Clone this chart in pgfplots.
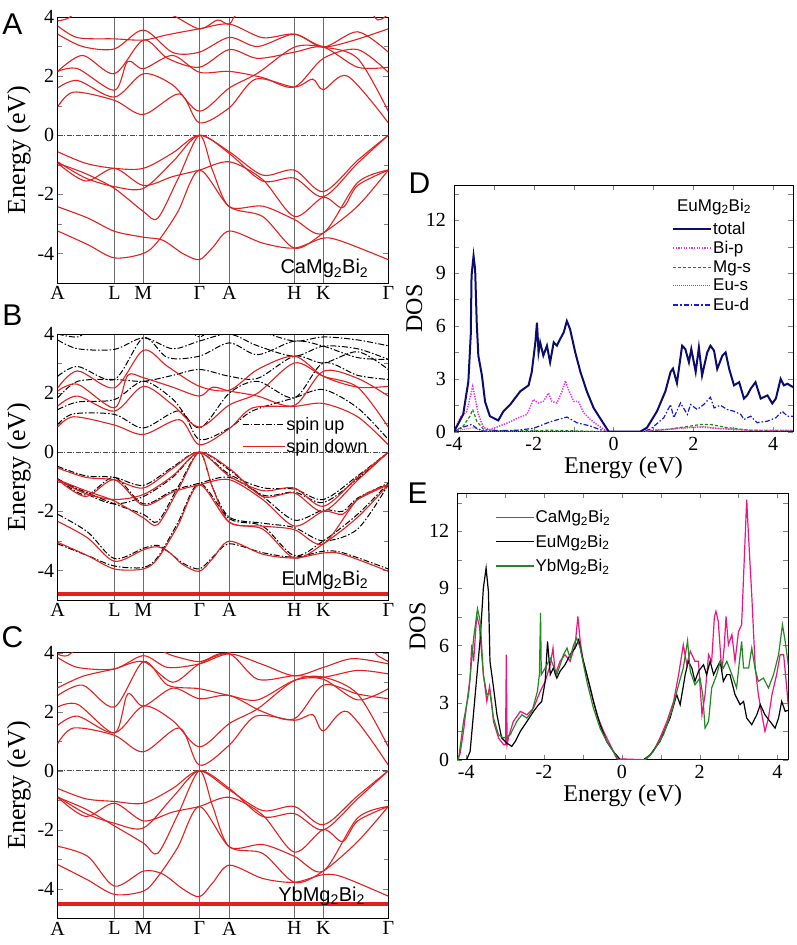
\documentclass[border=0pt]{standalone}
\usepackage{fontspec}
\setmainfont{Liberation Serif}
\setsansfont{Liberation Sans}
\usepackage{pgfplots}
\pgfplotsset{compat=1.18}
\definecolor{bandred}{RGB}{226,32,32}
\definecolor{navyD}{RGB}{12,12,110}
\definecolor{bip}{RGB}{230,50,230}
\definecolor{mgs}{RGB}{20,140,20}
\definecolor{eus}{RGB}{215,70,70}
\definecolor{eud}{RGB}{25,25,215}
\definecolor{caPink}{RGB}{235,20,130}
\definecolor{ybGreen}{RGB}{35,135,35}
\pgfplotsset{
 band/.style={scale only axis, width=330.6pt, height=266pt,
   xmin=0, xmax=330.7, ymin=-5, ymax=4,
   ytick={-4,-2,0,2,4}, minor ytick={-5,-3,-1,1,3}, ytick pos=both, tick align=inside,
   major tick length=5pt, minor tick length=4pt,
   xtick={0,56.7,85.7,141.7,171.7,236.7,265.7,330.7},
   xticklabels={A,L,M,Γ,A,H,K,Γ},
   xtick style={draw=none},
   xmajorgrids, major x grid style={gray!85!black, line width=0.6pt},
   /pgf/number format/assume math mode=true,
   yticklabel={\rmfamily\pgfmathprintnumber[assume math mode=true]{\tick}},
   ticklabel style={font=\rmfamily\fontsize{20}{24}\selectfont},
   ylabel={Energy (eV)}, ylabel style={font=\fontsize{26}{30}\selectfont},
   axis line style={line width=0.7pt},
 },
 bnd/.style={bandred, smooth, tension=0.5, line width=1.1pt, forget plot},
 bup/.style={black, smooth, tension=0.5, line width=1.0pt, forget plot,
   dash pattern=on 6pt off 2pt on 1.5pt off 2pt},
 zline/.style={forget plot, gray!60!black, line width=0.6pt, dash pattern=on 5pt off 1.5pt on 1pt off 1.5pt},
 dos/.style={scale only axis, tick align=inside, xtick pos=both, ytick pos=both,
   major tick length=5pt, minor tick length=5pt,
   ymin=0, ymax=14, ytick={0,3,6,9,12}, minor ytick={1.5,4.5,7.5,10.5,13.5},
   xtick={-4,-2,0,2,4}, minor xtick={-3,-1,1,3},
   /pgf/number format/assume math mode=true,
   xticklabel={\rmfamily\pgfmathprintnumber[assume math mode=true]{\tick}},
   yticklabel={\rmfamily\pgfmathprintnumber[assume math mode=true]{\tick}},
   ticklabel style={font=\rmfamily\fontsize{20}{21}\selectfont},
   xticklabel style={inner sep=0pt, yshift=-5pt},
   yticklabel style={inner sep=0pt, xshift=-8pt},
   xlabel={Energy (eV)}, ylabel={DOS},
   label style={font=\fontsize{24}{26}\selectfont},
   xlabel style={inner sep=0pt, yshift=-6pt},
   axis line style={line width=0.7pt},
   legend cell align=left,
   legend image code/.code={\draw[#1] (0pt,0pt) -- (38pt,0pt);},
 },
}
\begin{document}
\begin{tikzpicture}
\useasboundingbox (0pt,0pt) rectangle (796pt,945pt);
% ---------------- Panel A ----------------
\begin{axis}[band, at={(57.7pt,662pt)}, anchor=south west]
\addplot[zline] coordinates {(0,0) (330.7,0)};
% conduction
\addplot[bnd] coordinates {(0,0.96) (16,1.46) (56.7,1.18) (85.7,0.70) (122,1.4) (141.7,0.42) (171.7,0.93) (198,1.9) (236.7,1.63) (255,1.9) (265.7,1.54) (290,2.0) (330.7,0.42)};
\addplot[bnd] coordinates {(0,1.6) (20,1.85) (56.7,1.29) (85.7,2.08) (115,1.7) (141.7,0.81) (171.7,1.6) (200,2.1) (236.7,2.98) (265.7,2.98) (300,2.6) (330.7,0.81)};
\addplot[bnd] coordinates {(0,2.16) (20,2.25) (56.7,1.52) (70,2.5) (85.7,2.25) (115,2.7) (141.7,2.13) (171.7,2.16) (205,1.95) (236.7,1.63) (265.7,2.6) (300,2.9) (330.7,2.13)};
\addplot[bnd] coordinates {(0,2.16) (25,2.7) (56.7,2.08) (85.7,3.22) (110,2.6) (141.7,2.3) (171.7,2.9) (200,2.6) (236.7,2.81) (265.7,2.98) (300,2.3) (330.7,2.3)};
\addplot[bnd] coordinates {(0,3.42) (25,3.0) (56.7,2.92) (85.7,3.56) (115,2.8) (141.7,2.81) (171.7,3.31) (200,3.0) (236.7,3.42) (265.7,2.98) (300,3.5) (330.7,2.81)};
\addplot[bnd] coordinates {(0,3.7) (20,3.3) (56.7,3.26) (85.7,3.22) (110,3.4) (141.7,3.6) (171.7,3.76) (205,3.3) (236.7,3.42) (265.7,3.0) (295,3.2) (330.7,3.6)};
\addplot[bnd] coordinates {(0,3.87) (10,3.95) (30,4.3) (90,4.2) (115,4.05) (141.7,3.6) (160,3.9) (171.7,3.76) (190,4.2) (300,4.3) (320,3.9) (330.7,4.1)};
% valence
\addplot[bnd] coordinates {(0,-0.56) (28,-0.95) (56.7,-1.12) (85.7,-1.12) (115,-0.6) (141.7,0) (171.7,-0.56) (205,-1.35) (236.7,-1.18) (265.7,-1.91) (300,-0.85) (330.7,0)};
\addplot[bnd] coordinates {(0,-0.90) (28,-1.45) (56.7,-1.74) (85.7,-1.80) (115,-0.9) (141.7,0) (171.7,-0.62) (205,-1.55) (236.7,-1.45) (265.7,-2.08) (300,-0.95) (330.7,0)};
\addplot[bnd] coordinates {(0,-0.95) (28,-1.55) (56.7,-1.12) (85.7,-1.70) (115,-1.4) (141.7,-1.18) (171.7,-0.90) (205,-1.5) (236.7,-2.75) (265.7,-2.10) (285,-2.45) (300,-1.7) (330.7,-1.18)};
\addplot[bnd] coordinates {(0,-0.95) (28,-1.3) (56.7,-1.80) (85.7,-2.58) (100,-2.81) (120,-1.5) (141.7,0) (155,-1.2) (171.7,-2.42) (205,-2.4) (236.7,-2.85) (265.7,-3.31) (300,-1.6) (330.7,-1.18)};
\addplot[bnd] coordinates {(0,-2.42) (30,-2.8) (56.7,-3.25) (85.7,-3.45) (105,-3.55) (125,-4.0) (141.7,-4.21) (155,-3.8) (171.7,-3.24) (205,-3.65) (236.7,-3.82) (265.7,-3.48) (285,-3.6) (330.7,-4.21)};
\addplot[bnd] coordinates {(0,-3.24) (30,-3.7) (56.7,-4.15) (85.7,-4.0) (100,-3.6) (120,-2.6) (141.7,-1.18) (171.7,-2.42) (205,-2.75) (236.7,-3.82) (265.7,-3.31) (300,-2.4) (330.7,-1.18)};
\node[font=\sffamily\fontsize{20}{24}\selectfont, anchor=base east] at (rel axis cs:0.95,0.034) {CaMg\textsubscript{2}Bi\textsubscript{2}};
\end{axis}
% ---------------- Panel B ----------------
\begin{axis}[band, at={(57.7pt,345pt)}, anchor=south west,
  legend style={draw=none, fill=none, at={(0.557,0.69)}, anchor=north west,
    font=\sffamily\fontsize{18}{20}\selectfont, inner sep=0pt, nodes={inner sep=1pt}, row sep=5pt},
  legend cell align=left,
  legend image code/.code={\draw[#1] (0pt,0pt) -- (42pt,0pt);}]
\addplot[zline] coordinates {(0,0) (330.7,0)};
% spin up (black)
\addplot[bup] coordinates {(0,0.94) (16,1.3) (56.7,1.28) (85.7,0.82) (122,1.4) (141.7,0.43) (171.7,0.82) (195,1.4) (236.7,1.84) (265.7,2.12) (300,1.5) (330.7,0.43)};
\addplot[bup] coordinates {(0,1.44) (20,1.7) (56.7,1.78) (85.7,2.4) (115,1.8) (141.7,0.82) (171.7,2.0) (200,2.4) (236.7,1.84) (265.7,3.02) (300,2.6) (330.7,2.46)};
\addplot[bup] coordinates {(0,1.84) (20,2.4) (56.7,2.46) (85.7,2.4) (115,2.6) (141.7,2.8) (171.7,2.57) (200,2.5) (236.7,3.25) (265.7,3.02) (300,3.4) (330.7,2.8)};
\addplot[bup] coordinates {(0,2.57) (20,2.9) (56.7,2.46) (85.7,3.87) (110,3.2) (141.7,3.25) (171.7,3.7) (200,3.3) (236.7,3.76) (265.7,3.59) (300,3.2) (330.7,3.14)};
\addplot[bup] coordinates {(0,3.8) (20,3.5) (56.7,3.48) (85.7,3.87) (115,3.5) (141.7,3.76) (171.7,4.0) (200,3.6) (236.7,3.25) (265.7,3.59) (300,3.5) (330.7,3.14)};
\addplot[bup] coordinates {(0,4.0) (20,3.9) (40,4.2) (120,4.3) (141.7,3.9) (160,4.3) (200,4.1) (236.7,3.76) (265.7,3.9) (300,3.8) (330.7,3.6)};
\addplot[bup] coordinates {(0,-0.48) (28,-0.8) (56.7,-0.85) (85.7,-1.12) (115,-0.5) (141.7,0) (171.7,-0.75) (205,-1.2) (236.7,-1.25) (265.7,-1.6) (300,-0.8) (330.7,0)};
\addplot[bup] coordinates {(0,-0.9) (28,-1.4) (56.7,-1.75) (85.7,-1.5) (115,-0.85) (141.7,0) (171.7,-0.6) (205,-1.45) (236.7,-1.35) (265.7,-1.7) (300,-0.9) (330.7,0)};
\addplot[bup] coordinates {(0,-0.9) (28,-1.45) (56.7,-0.85) (85.7,-1.75) (115,-1.3) (141.7,-1.05) (171.7,-0.85) (205,-1.5) (236.7,-2.3) (265.7,-1.95) (285,-2.0) (300,-1.55) (330.7,-1.05)};
\addplot[bup] coordinates {(0,-0.95) (28,-1.35) (56.7,-1.75) (85.7,-2.1) (100,-2.35) (120,-1.2) (141.7,0) (155,-1.2) (171.7,-2.2) (205,-2.4) (236.7,-2.55) (265.7,-3.0) (300,-2.6) (330.7,-1.1)};
\addplot[bup] coordinates {(0,-2.1) (30,-2.7) (56.7,-3.6) (85.7,-3.25) (100,-3.15) (112,-3.4) (125,-3.75) (141.7,-3.95) (155,-3.55) (171.7,-3.1) (205,-3.4) (236.7,-3.55) (265.7,-3.35) (285,-3.4) (330.7,-3.95)};
\addplot[bup] coordinates {(0,-3.1) (30,-3.5) (56.7,-3.85) (85.7,-3.9) (100,-3.55) (120,-2.4) (141.7,-1.05) (171.7,-2.25) (205,-2.5) (236.7,-3.5) (265.7,-3.0) (300,-2.1) (330.7,-1.05)};
% spin down (red)
\addplot[bnd] coordinates {(0,0.85) (16,1.2) (56.7,0.92) (85.7,0.60) (122,1.1) (141.7,0.25) (171.7,0.80) (195,1.5) (236.7,1.55) (265.7,1.65) (300,1.2) (330.7,0.25)};
\addplot[bnd] coordinates {(0,1.56) (20,1.9) (56.7,1.39) (85.7,2.23) (115,1.6) (141.7,0.85) (171.7,1.6) (200,2.0) (236.7,3.02) (265.7,2.57) (300,2.2) (330.7,0.85)};
\addplot[bnd] coordinates {(0,2.07) (20,2.3) (56.7,1.5) (70,2.6) (85.7,2.52) (115,2.2) (141.7,1.9) (155,2.2) (171.7,2.07) (200,1.9) (236.7,1.58) (265.7,2.74) (300,2.5) (330.7,1.9)};
\addplot[bnd] coordinates {(0,2.18) (20,2.75) (56.7,2.18) (85.7,3.45) (110,2.9) (141.7,2.23) (171.7,2.1) (200,2.8) (236.7,3.25) (265.7,2.57) (300,2.2) (330.7,2.23)};
\addplot[bnd] coordinates {(0,-0.53) (28,-0.85) (56.7,-0.93) (85.7,-1.21) (115,-0.55) (141.7,0) (171.7,-0.81) (205,-1.3) (236.7,-1.21) (265.7,-1.83) (300,-0.85) (330.7,0)};
\addplot[bnd] coordinates {(0,-0.93) (28,-1.4) (56.7,-1.6) (85.7,-1.43) (115,-0.8) (141.7,0) (171.7,-0.55) (205,-1.5) (236.7,-1.38) (265.7,-2.0) (300,-0.95) (330.7,0)};
\addplot[bnd] coordinates {(0,-0.93) (28,-1.5) (56.7,-0.93) (85.7,-1.8) (115,-1.35) (141.7,-1.1) (171.7,-0.93) (205,-1.6) (236.7,-2.5) (265.7,-2.0) (285,-2.1) (300,-1.6) (330.7,-1.1)};
\addplot[bnd] coordinates {(0,-0.93) (28,-1.3) (56.7,-1.65) (85.7,-2.22) (100,-2.45) (120,-1.3) (141.7,0) (155,-1.2) (171.7,-2.37) (205,-2.5) (236.7,-2.62) (265.7,-3.1) (300,-1.6) (330.7,-1.1)};
\addplot[bnd] coordinates {(0,-2.34) (30,-2.9) (56.7,-3.69) (85.7,-3.3) (100,-3.2) (112,-3.4) (125,-3.8) (141.7,-4.03) (155,-3.6) (171.7,-3.01) (205,-3.45) (236.7,-3.58) (265.7,-3.41) (285,-3.45) (330.7,-4.03)};
\addplot[bnd] coordinates {(0,-3.05) (30,-3.5) (56.7,-3.95) (85.7,-3.95) (100,-3.6) (120,-2.5) (141.7,-1.1) (171.7,-2.37) (205,-2.6) (236.7,-3.58) (265.7,-3.1) (300,-2.2) (330.7,-1.1)};
\addplot[bandred, line width=4.5pt, forget plot] coordinates {(0,-4.79) (330.7,-4.79)};
\addlegendimage{black, line width=1.1pt, dash pattern=on 6pt off 2pt on 1.5pt off 2pt}
\addlegendentry{spin up}
\addlegendimage{bandred, line width=1.3pt}
\addlegendentry{spin down}
\node[font=\sffamily\fontsize{20}{24}\selectfont, anchor=base east] at (rel axis cs:0.95,0.056) {EuMg\textsubscript{2}Bi\textsubscript{2}};
\end{axis}
% ---------------- Panel C ----------------
\begin{axis}[band, at={(57.7pt,26.7pt)}, anchor=south west, height=265.6pt]
\addplot[zline] coordinates {(0,0) (330.7,0)};
\addplot[bnd] coordinates {(0,0.92) (16,1.45) (56.7,1.2) (85.7,0.64) (122,1.45) (141.7,0.19) (171.7,0.87) (198,1.85) (236.7,1.71) (255,1.9) (265.7,1.35) (290,2.0) (330.7,0.19)};
\addplot[bnd] coordinates {(0,1.54) (20,1.85) (56.7,1.28) (85.7,2.19) (115,1.7) (141.7,0.81) (171.7,1.6) (200,2.1) (236.7,3.06) (265.7,3.17) (300,2.6) (330.7,0.81)};
\addplot[bnd] coordinates {(0,2.16) (20,2.25) (56.7,1.28) (70,2.6) (85.7,2.19) (115,2.8) (141.7,2.44) (171.7,2.55) (205,2.0) (236.7,1.76) (265.7,2.9) (300,2.6) (330.7,2.44)};
\addplot[bnd] coordinates {(0,2.55) (25,2.9) (56.7,2.16) (85.7,3.7) (110,2.9) (141.7,2.78) (171.7,2.55) (200,2.4) (236.7,3.06) (265.7,3.1) (300,2.4) (330.7,2.78)};
\addplot[bnd] coordinates {(0,2.81) (25,3.2) (56.7,3.45) (85.7,3.7) (115,3.0) (141.7,3.62) (171.7,3.96) (200,3.1) (236.7,3.22) (265.7,3.17) (300,3.4) (330.7,3.28)};
\addplot[bnd] coordinates {(0,3.84) (20,3.5) (56.7,3.45) (85.7,3.9) (110,3.5) (141.7,3.62) (171.7,3.96) (205,3.6) (236.7,3.22) (265.7,3.5) (295,3.8) (330.7,3.62)};
\addplot[bnd] coordinates {(0,3.95) (10,3.9) (30,4.3) (90,4.2) (115,3.9) (141.7,3.7) (160,3.95) (171.7,4.0) (190,4.2) (300,4.3) (320,3.9) (330.7,3.7)};
\addplot[bnd] coordinates {(0,-0.6) (28,-0.95) (56.7,-1.04) (85.7,-1.1) (115,-0.6) (141.7,0) (171.7,-0.65) (205,-1.35) (236.7,-1.21) (265.7,-1.83) (300,-0.85) (330.7,0)};
\addplot[bnd] coordinates {(0,-0.88) (28,-1.45) (56.7,-1.78) (85.7,-1.94) (115,-0.9) (141.7,0) (171.7,-0.6) (205,-1.55) (236.7,-1.45) (265.7,-2.0) (300,-0.95) (330.7,0)};
\addplot[bnd] coordinates {(0,-0.9) (28,-1.55) (56.7,-1.1) (85.7,-1.7) (115,-1.4) (141.7,-1.21) (171.7,-0.9) (205,-1.5) (236.7,-2.76) (265.7,-2.0) (285,-2.4) (300,-1.7) (330.7,-1.21)};
\addplot[bnd] coordinates {(0,-0.9) (28,-1.3) (56.7,-1.87) (85.7,-2.45) (100,-2.8) (120,-1.5) (141.7,0) (155,-1.2) (171.7,-2.58) (205,-2.5) (236.7,-2.9) (265.7,-3.4) (300,-1.6) (330.7,-1.21)};
\addplot[bnd] coordinates {(0,-2.56) (30,-2.9) (56.7,-3.91) (85.7,-3.4) (105,-3.5) (125,-4.0) (141.7,-4.27) (155,-3.8) (171.7,-3.2) (205,-3.65) (236.7,-3.78) (265.7,-3.52) (285,-3.6) (330.7,-4.25)};
\addplot[bnd] coordinates {(0,-3.18) (30,-3.7) (56.7,-4.19) (85.7,-4.08) (100,-3.6) (120,-2.6) (141.7,-1.21) (171.7,-2.58) (205,-2.8) (236.7,-3.78) (265.7,-3.4) (300,-2.4) (330.7,-1.21)};
\addplot[bandred, line width=4pt, forget plot] coordinates {(0,-4.53) (330.7,-4.53)};
\node[font=\sffamily\fontsize{20}{24}\selectfont, anchor=base east] at (rel axis cs:0.94,0.0625) {YbMg\textsubscript{2}Bi\textsubscript{2}};
\end{axis}
% ---------------- Panel D ----------------
\begin{axis}[dos, at={(454pt,513.3pt)}, anchor=south west, width=339pt, height=246.7pt,
  xmin=-4, xmax=4.5,
  legend style={draw=none, fill=none, at={(0.643,0.855)}, anchor=north west,
    font=\sffamily\fontsize{17}{19}\selectfont, inner sep=0pt, nodes={inner sep=1pt}, row sep=3.5pt}]
\addplot[eus, line width=1.0pt, dash pattern=on 1pt off 1pt, forget plot] coordinates {(-4,0) (-3.77,0.13) (-3.51,0.23) (-3.26,0.02) (-0.12,0) (0.67,0) (1.76,0.2) (2.26,0.3) (2.6,0.19) (3.44,0.06) (4.5,0.05)};
\addplot[mgs, line width=1.2pt, dash pattern=on 3pt off 2pt, forget plot] coordinates {(-4,0) (-3.77,0.32) (-3.60,0.88) (-3.53,1.26) (-3.43,0.60) (-3.26,0.13) (-2.84,0.05) (-1.59,0.08) (-0.12,0) (0.67,0) (1.34,0.13) (1.76,0.26) (2.18,0.41) (2.43,0.41) (2.85,0.23) (3.44,0.08) (4.5,0.06)};
\addplot[eud, line width=1.2pt, dash pattern=on 5pt off 2pt on 1.5pt off 2pt, forget plot] coordinates {(-4,0) (-3.77,0.26) (-3.56,0.41) (-3.43,0.19) (-3.26,0.04) (-2.43,0.08) (-2.01,0.19) (-1.59,0.56) (-1.17,0.83) (-0.92,0.51) (-0.58,0.32) (-0.25,0.04) (-0.12,0) (0.67,0) (0.92,0.13) (1.26,0.79) (1.43,1.54) (1.51,0.79) (1.68,1.63) (1.85,0.98) (1.93,1.54) (2.10,1.26) (2.26,1.54) (2.43,1.95) (2.52,1.35) (2.68,1.50) (2.85,1.26) (3.02,1.16) (3.19,0.98) (3.27,0.69) (3.44,0.88) (3.60,0.51) (3.86,0.60) (4.07,0.79) (4.23,1.16) (4.36,0.88) (4.5,0.88)};
\addplot[bip, line width=1.5pt, dash pattern=on 1.3pt off 1.3pt, forget plot] coordinates {(-4,0) (-3.85,0.79) (-3.68,1.16) (-3.60,1.91) (-3.53,2.57) (-3.47,1.91) (-3.39,0.98) (-3.26,0.23) (-3.10,0.13) (-2.93,0.26) (-2.76,0.41) (-2.59,0.56) (-2.43,0.75) (-2.17,0.98) (-2.01,1.82) (-1.88,1.63) (-1.76,1.72) (-1.63,2.19) (-1.55,1.72) (-1.42,1.63) (-1.29,2.29) (-1.21,2.89) (-1.13,2.38) (-1.00,1.72) (-0.88,1.72) (-0.75,1.07) (-0.58,0.69) (-0.42,0.41) (-0.25,0.13) (-0.12,0) (0.67,0) (0.92,0.08) (1.34,0.13) (1.76,0.23) (2.18,0.26) (2.60,0.19) (3.02,0.13) (3.44,0.08) (4.5,0.08)};
\addplot[navyD, line width=2.0pt, forget plot] coordinates {(-4,0) (-3.77,0.98) (-3.64,2.85) (-3.58,5.5) (-3.56,8.85) (-3.51,9.98) (-3.47,9.2) (-3.43,6.19) (-3.39,4.32) (-3.30,3.19) (-3.22,1.69) (-3.10,0.88) (-2.89,0.64) (-2.76,1.16) (-2.59,1.54) (-2.34,2.29) (-2.13,2.63) (-2.05,3.39) (-1.96,5.07) (-1.92,6.19) (-1.88,4.50) (-1.84,5.07) (-1.76,4.32) (-1.67,4.88) (-1.59,3.94) (-1.50,5.07) (-1.42,4.88) (-1.34,5.25) (-1.25,5.63) (-1.17,6.28) (-1.09,5.82) (-0.96,4.50) (-0.83,3.39) (-0.67,2.29) (-0.50,1.35) (-0.29,0.60) (-0.12,0) (0.67,0) (0.84,0.23) (1.09,1.16) (1.30,2.29) (1.43,3.39) (1.49,3.58) (1.59,2.76) (1.72,4.88) (1.80,4.69) (1.89,3.94) (1.95,4.69) (2.06,3.39) (2.14,4.78) (2.22,3.19) (2.35,4.50) (2.43,4.88) (2.52,4.60) (2.60,3.56) (2.73,4.32) (2.81,4.50) (2.90,3.56) (3.02,2.63) (3.15,2.81) (3.27,1.88) (3.35,2.06) (3.44,2.44) (3.56,2.81) (3.69,1.88) (3.86,2.06) (3.98,1.60) (4.07,1.88) (4.19,3.00) (4.27,2.63) (4.36,2.72) (4.5,2.53)};
\addlegendimage{navyD, line width=2.0pt}
\addlegendentry{total}
\addlegendimage{bip, line width=1.5pt, dash pattern=on 1.3pt off 1.3pt}
\addlegendentry{Bi-p}
\addlegendimage{mgs, line width=1.3pt, dash pattern=on 3pt off 2pt}
\addlegendentry{Mg-s}
\addlegendimage{eus, line width=1.2pt, dash pattern=on 1pt off 1pt}
\addlegendentry{Eu-s}
\addlegendimage{eud, line width=1.2pt, dash pattern=on 5pt off 2pt on 1.5pt off 2pt}
\addlegendentry{Eu-d}
\node[font=\sffamily\fontsize{17}{20}\selectfont] at (rel axis cs:0.767,0.911) {EuMg\textsubscript{2}Bi\textsubscript{2}};
\end{axis}
% ---------------- Panel E ----------------
\begin{axis}[dos, at={(457.3pt,185.3pt)}, anchor=south west, width=331pt, height=266.4pt,
  xmin=-4.23, xmax=4.28,
  legend style={draw=none, fill=none, at={(0.114,0.94)}, anchor=north west,
    font=\sffamily\fontsize{17}{19}\selectfont, inner sep=0pt, nodes={inner sep=1pt}, row sep=8.5pt}]
\addplot[caPink, line width=1.2pt, forget plot] coordinates {(-4.23,0) (-4.16,0.3) (-4.07,1.5) (-3.99,2.89) (-3.90,4.3) (-3.86,6.04) (-3.81,5.17) (-3.73,7.6) (-3.66,7.0) (-3.56,4.47) (-3.47,3.06) (-3.40,3.85) (-3.35,3.06) (-3.30,2.01) (-3.17,1.14) (-3.04,0.79) (-2.99,0.79) (-2.97,5.52) (-2.95,0.79) (-2.91,1.2) (-2.79,2.01) (-2.61,2.54) (-2.44,2.36) (-2.27,2.71) (-2.10,3.59) (-1.97,4.12) (-1.84,4.99) (-1.77,5.87) (-1.71,4.47) (-1.59,5.17) (-1.46,5.52) (-1.33,5.17) (-1.20,6.04) (-1.13,7.53) (-1.07,6.22) (-0.99,5.17) (-0.81,3.77) (-0.64,2.36) (-0.47,1.49) (-0.30,0.79) (-0.13,0.05) (0.56,0) (0.64,0.05) (0.81,0.44) (0.98,1.14) (1.16,2.01) (1.33,3.06) (1.46,4.47) (1.58,6.04) (1.67,5.0) (1.76,5.7) (1.88,5.17) (1.97,5.17) (2.06,2.36) (2.14,3.42) (2.23,5.52) (2.31,5.17) (2.38,7.5) (2.42,7.8) (2.48,7.27) (2.57,4.64) (2.63,5.87) (2.68,7.53) (2.74,6.04) (2.83,6.57) (2.91,5.17) (3.00,6.74) (3.08,7.09) (3.17,11.65) (3.21,13.66) (3.26,11.65) (3.34,8.67) (3.43,4.82) (3.51,3.42) (3.60,2.36) (3.68,1.49) (3.77,2.19) (3.86,3.42) (3.98,4.47) (4.07,5.52) (4.16,5.52) (4.24,3.77) (4.28,2.8)};
\addplot[black, line width=1.2pt, forget plot] coordinates {(-3.99,0) (-3.90,0.44) (-3.77,3.42) (-3.64,6.39) (-3.56,9.02) (-3.49,10.07) (-3.43,8.84) (-3.39,5.17) (-3.32,4.12) (-3.21,2.36) (-3.09,1.14) (-2.96,0.88) (-2.83,0.70) (-2.74,0.96) (-2.61,1.49) (-2.44,2.01) (-2.27,2.54) (-2.14,2.89) (-2.06,3.06) (-1.97,4.12) (-1.91,6.22) (-1.84,4.47) (-1.76,4.82) (-1.67,4.29) (-1.59,4.64) (-1.46,4.99) (-1.33,5.52) (-1.20,5.87) (-1.11,6.30) (-1.03,5.52) (-0.90,4.47) (-0.73,3.06) (-0.56,1.84) (-0.39,0.96) (-0.22,0.44) (-0.04,0) (0.56,0) (0.73,0.26) (0.98,0.96) (1.24,2.19) (1.41,3.42) (1.50,2.89) (1.63,4.47) (1.71,5.17) (1.80,4.82) (1.88,4.12) (1.97,4.64) (2.10,4.99) (2.18,4.47) (2.27,5.17) (2.36,4.47) (2.44,4.82) (2.53,5.17) (2.61,4.12) (2.70,4.47) (2.78,4.47) (2.91,3.42) (3.04,2.89) (3.13,3.06) (3.21,2.19) (3.34,1.84) (3.47,2.36) (3.56,2.89) (3.68,2.36) (3.81,2.01) (3.94,1.66) (4.03,2.19) (4.11,3.06) (4.20,2.54) (4.28,2.6)};
\addplot[ybGreen, line width=1.2pt, forget plot] coordinates {(-4.20,0) (-4.07,2.01) (-3.94,3.42) (-3.81,6.39) (-3.71,7.93) (-3.64,7.27) (-3.56,4.47) (-3.47,3.42) (-3.39,3.50) (-3.30,2.19) (-3.17,1.31) (-3.04,1.14) (-2.87,1.31) (-2.70,2.01) (-2.57,2.36) (-2.44,2.19) (-2.31,2.54) (-2.17,3.59) (-2.12,4.47) (-2.09,7.71) (-2.07,4.47) (-1.97,4.82) (-1.84,5.34) (-1.67,4.47) (-1.50,5.52) (-1.41,5.87) (-1.33,5.34) (-1.24,6.04) (-1.16,6.39) (-1.07,5.87) (-0.90,4.12) (-0.73,2.71) (-0.56,1.66) (-0.39,0.96) (-0.22,0.44) (-0.09,0) (0.60,0) (0.81,0.44) (1.07,1.31) (1.28,2.54) (1.46,3.94) (1.58,4.82) (1.69,6.25) (1.76,4.64) (1.88,3.94) (2.01,4.29) (2.08,3.42) (2.14,1.66) (2.23,2.01) (2.31,3.77) (2.44,4.47) (2.53,5.17) (2.61,4.82) (2.70,5.17) (2.83,4.47) (2.95,3.77) (3.08,6.22) (3.13,4.82) (3.26,4.82) (3.34,5.87) (3.43,4.73) (3.51,4.12) (3.64,4.29) (3.77,3.77) (3.90,4.47) (4.03,5.52) (4.13,7.09) (4.20,6.22) (4.28,4.99)};
\addlegendimage{caPink, line width=1.4pt}
\addlegendentry{CaMg\textsubscript{2}Bi\textsubscript{2}}
\addlegendimage{black, line width=1.4pt}
\addlegendentry{EuMg\textsubscript{2}Bi\textsubscript{2}}
\addlegendimage{ybGreen, line width=1.4pt}
\addlegendentry{YbMg\textsubscript{2}Bi\textsubscript{2}}
\end{axis}
% panel letters
\node[font=\sffamily\fontsize{30}{34}\selectfont] at (12.5pt,921pt) {A};
\node[font=\sffamily\fontsize{30}{34}\selectfont] at (12.5pt,630pt) {B};
\node[font=\sffamily\fontsize{30}{34}\selectfont] at (12.5pt,308pt) {C};
\node[font=\sffamily\fontsize{30}{34}\selectfont] at (419.5pt,761.5pt) {D};
\node[font=\sffamily\fontsize{30}{34}\selectfont] at (417.5pt,451.5pt) {E};
\end{tikzpicture}
\end{document}
